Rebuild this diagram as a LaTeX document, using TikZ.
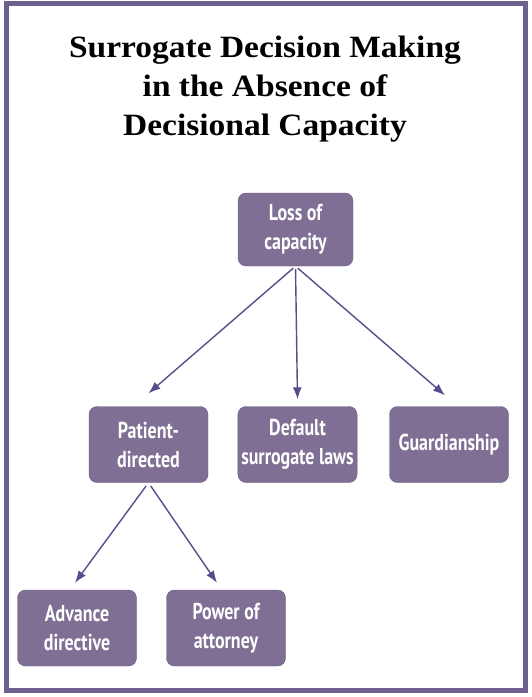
\documentclass[tikz,border=0pt]{standalone}
\usepackage{fontspec}
\usetikzlibrary{arrows.meta,positioning}
\setmainfont{Liberation Serif}
\newfontfamily\titlefont[FakeStretch=1.08]{Liberation Serif}
\newfontfamily\boxfont[FakeStretch=0.78]{PT Sans}
\definecolor{frameline}{HTML}{6E608C}
\definecolor{boxfill}{HTML}{7F6F94}
\definecolor{boxline}{HTML}{6C5D84}
\definecolor{arrowline}{HTML}{5B4B8A}

\begin{document}
\begin{tikzpicture}[x=1pt,y=-1pt,
      box/.style={draw=boxline,fill=boxfill,rounded corners=8pt,minimum width=119pt,minimum height=76pt,
        text=white,align=center,font=\boxfont\bfseries\fontsize{23}{29}\selectfont},
      arr/.style={-{Latex[length=12pt,width=9pt]},draw=arrowline,line width=1.4pt}]
    \useasboundingbox (0,0) rectangle (532,697);
    \draw[draw=frameline,line width=5pt] (6,3.5) rectangle (525.5,690.5);
    \node[font=\titlefont\bfseries\fontsize{31}{39}\selectfont,align=center] (title) at (265,89)
      {Surrogate Decision Making\\in the Absence of\\Decisional Capacity};
    \node[box,minimum width=115pt,minimum height=73pt] (loss) at (295.5,229.5) {Loss of\\capacity};
    \node[box] (pat) at (148.5,444.5) {Patient-\\directed};
    \node[box] (def) at (297.5,444.5) {Default\\surrogate laws};
    \node[box] (gua) at (449,444.5) {Guardianship};
    \node[box] (adv) at (77,628) {Advance\\directive};
    \node[box] (pow) at (226,628) {Power of\\attorney};
    \foreach \b/\dx/\dy in {pat/0/13,def/0/7,gua/-4/11}{
      \draw[arr,shorten <=3pt] (loss.south) -- ([xshift=\dx pt,yshift=\dy pt]\b.north);}
    \foreach \b/\dx in {adv/-2,pow/-9}{
      \draw[arr,shorten <=4pt] (pat.south) -- ([xshift=\dx pt,yshift=7pt]\b.north);}
  \end{tikzpicture}
\end{document}
